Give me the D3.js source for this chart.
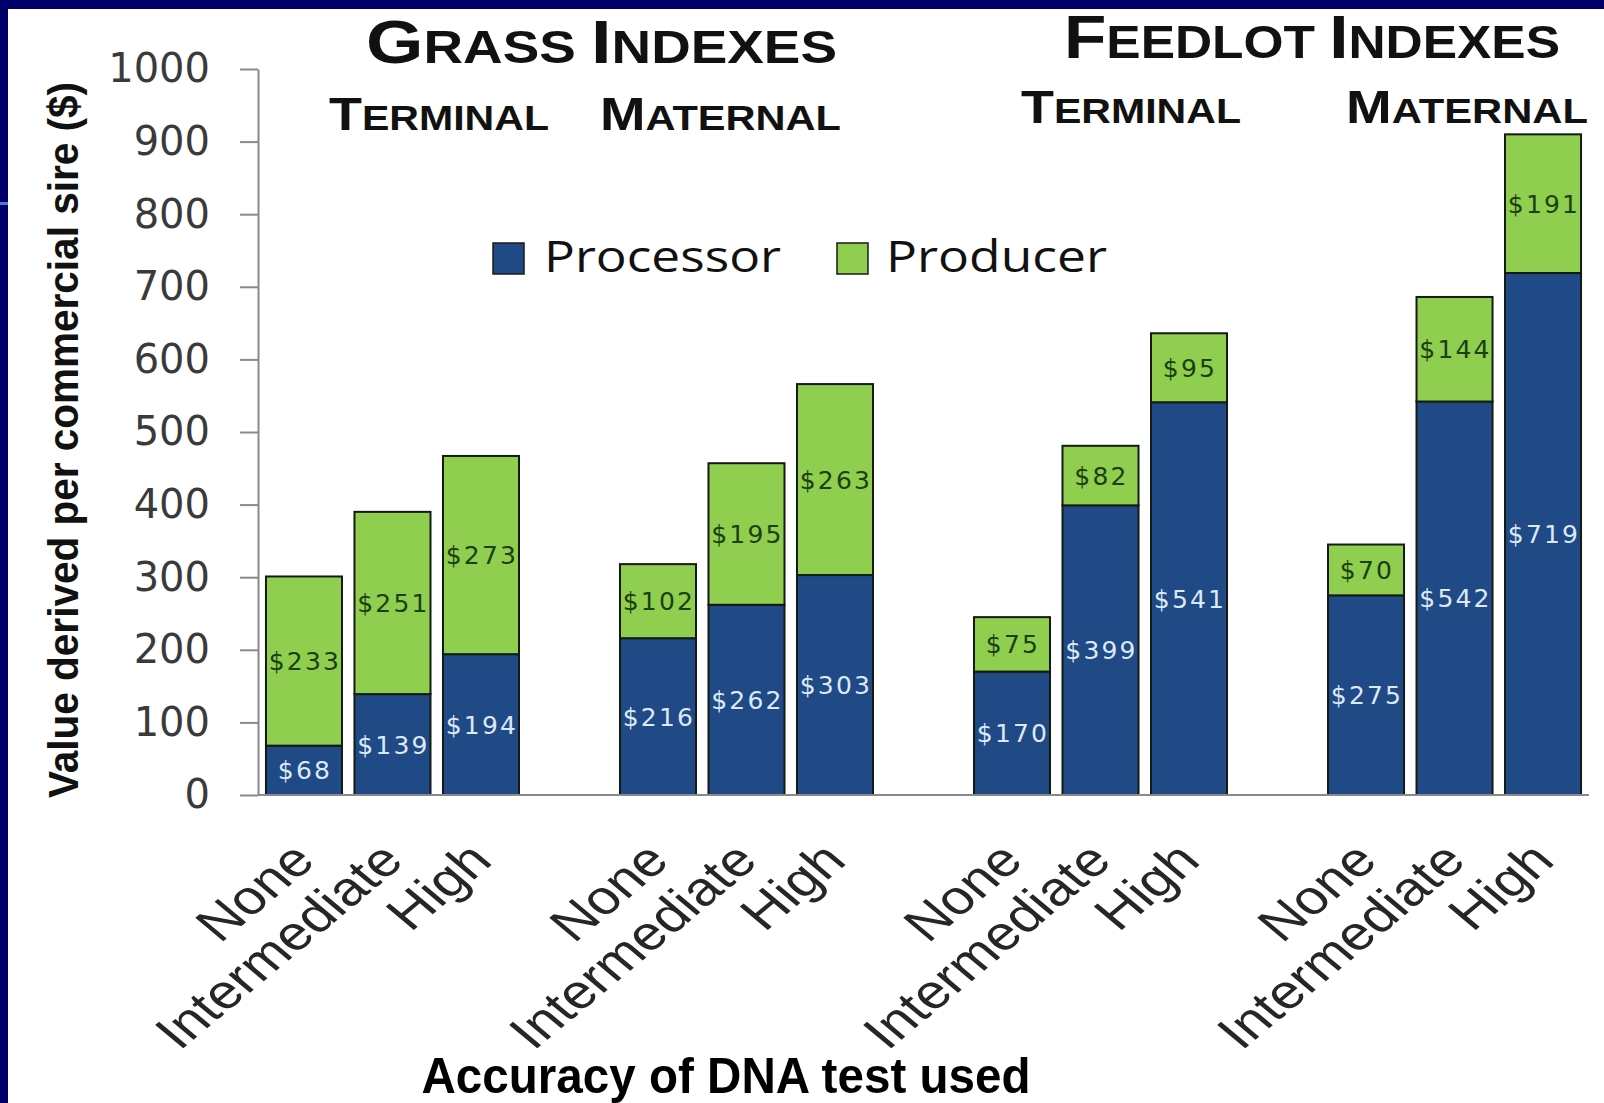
<!DOCTYPE html>
<html>
<head>
<meta charset="utf-8">
<script src="https://cdn.jsdelivr.net/npm/d3@7"></script>
<style>
  html, body { margin: 0; padding: 0; background: #ffffff; overflow: hidden; }
  svg { display: block; }
</style>
</head>
<body>
<svg id="chart" width="1604" height="1103"></svg>
<script>
// Index groups (left to right) and DNA test accuracy levels within each group
const groups = ["Grass Terminal", "Grass Maternal", "Feedlot Terminal", "Feedlot Maternal"];
const levels = ["None", "Intermediate", "High"];

// Value per commercial sire ($), one entry per bar, in group order
const processorValues = [68, 139, 194, 216, 262, 303, 170, 399, 541, 275, 542, 719];
const producerValues  = [233, 251, 273, 102, 195, 263, 75, 82, 95, 70, 144, 191];

const seriesNames = ["Processor", "Producer"];
const yTicks = [0, 100, 200, 300, 400, 500, 600, 700, 800, 900, 1000];

const sectionTitles = [["G", "RASS "], ["I", "NDEXES"]];
const sectionTitles2 = [["F", "EEDLOT "], ["I", "NDEXES"]];
const terminalTitle = [["T", "ERMINAL"]];
const maternalTitle = [["M", "ATERNAL"]];

const yTitle = "Value derived per commercial sire ($)";
const xTitle = "Accuracy of DNA test used";

const W = 1604, H = 1103;
const colors = { Processor: "#1f4a86", Producer: "#8fce4e" };

const svg = d3.select("#chart");

// slide frame
svg.append("rect").attr("width", W).attr("height", H).attr("fill", "#000068");
svg.append("rect").attr("x", 8).attr("y", 9).attr("width", W - 8).attr("height", H - 9).attr("fill", "#ffffff");
svg.append("rect").attr("x", 0).attr("y", 202).attr("width", 8).attr("height", 3).attr("fill", "#4f78e6");

// one slot per bar, plus an empty slot between index groups
const slots = [];
const bars = [];
groups.forEach((g, gi) => {
  levels.forEach((lv, li) => {
    const key = g + "|" + lv;
    slots.push(key);
    const i = gi * levels.length + li;
    bars.push({ key, group: g, level: lv, processor: processorValues[i], producer: producerValues[i] });
  });
  if (gi < groups.length - 1) slots.push("gap" + gi);
});

const x = d3.scaleBand().domain(slots).range([258, 1589]).paddingInner(0.141).paddingOuter(0.09);
const y = d3.scaleLinear().domain([0, 1000]).range([795, 69]);

// stacked segments
const stack = d3.stack().keys(["processor", "producer"]);
const stacked = stack(bars);

const segG = svg.append("g");
stacked.forEach((layer, si) => {
  const name = seriesNames[si];
  segG.selectAll(null)
    .data(layer)
    .join("rect")
    .attr("x", d => x(d.data.key))
    .attr("width", x.bandwidth())
    .attr("y", d => y(d[1]))
    .attr("height", d => y(d[0]) - y(d[1]))
    .attr("fill", colors[name])
    .attr("stroke", "#141a14")
    .attr("stroke-width", 2);
});

// value labels centred in each segment
stacked.forEach((layer, si) => {
  const name = seriesNames[si];
  segG.selectAll(null)
    .data(layer)
    .join("text")
    .attr("x", d => x(d.data.key) + x.bandwidth() / 2 + 1)
    .attr("y", d => (y(d[0]) + y(d[1])) / 2)
    .attr("dy", "0.36em")
    .attr("text-anchor", "middle")
    .attr("font-family", "'DejaVu Sans', Verdana, sans-serif")
    .attr("font-size", 25)
    .attr("letter-spacing", 2.2)
    .attr("fill", name === "Processor" ? "#dde8f6" : "#1c3f14")
    .text(d => "$" + (d[1] - d[0]));
});

// y axis
const yAxis = d3.axisLeft(y).tickValues(yTicks).tickFormat(d3.format("d"))
  .tickSize(18).tickPadding(30).tickSizeOuter(0);
const yg = svg.append("g").attr("transform", "translate(258,0)").call(yAxis);
yg.select(".domain").attr("stroke", "#8a8a8a").attr("stroke-width", 2);
yg.selectAll(".tick line").attr("stroke", "#8a8a8a").attr("stroke-width", 2);
yg.selectAll(".tick text")
  .attr("font-family", "'DejaVu Sans', Verdana, sans-serif")
  .attr("font-size", 40)
  .attr("fill", "#3a3a3a");

// x axis baseline
svg.append("line")
  .attr("x1", 258).attr("x2", 1589)
  .attr("y1", y(0)).attr("y2", y(0))
  .attr("stroke", "#8a8a8a").attr("stroke-width", 2);

// slanted category labels
svg.append("g").selectAll("text")
  .data(bars)
  .join("text")
  .attr("transform", d => `translate(${x(d.key) + x.bandwidth() / 2 - 1},${851}) scale(1.2,1) rotate(-45)`)
  .attr("text-anchor", "end")
  .attr("dy", "0.35em")
  .attr("font-family", "'Liberation Sans', Arial, sans-serif")
  .attr("font-size", 48)
  .attr("fill", "#262626")
  .text(d => d.level);

// axis titles
svg.append("text")
  .attr("transform", "translate(78,440) rotate(-90)")
  .attr("text-anchor", "middle")
  .attr("font-family", "'Liberation Sans', Arial, sans-serif")
  .attr("font-weight", "bold")
  .attr("font-size", 42)
  .attr("textLength", 716)
  .attr("lengthAdjust", "spacingAndGlyphs")
  .attr("fill", "#111")
  .text(yTitle);

svg.append("text")
  .attr("x", 726).attr("y", 1093)
  .attr("text-anchor", "middle")
  .attr("font-family", "'Liberation Sans', Arial, sans-serif")
  .attr("font-weight", "bold")
  .attr("font-size", 50)
  .attr("textLength", 609)
  .attr("lengthAdjust", "spacingAndGlyphs")
  .attr("fill", "#000")
  .text(xTitle);

// small-caps headings
function smallCaps(parts, xLeft, yBase, big, small, len) {
  const t = svg.append("text")
    .attr("x", xLeft).attr("y", yBase)
    .attr("font-family", "'Liberation Sans', Arial, sans-serif")
    .attr("font-weight", "bold")
    .attr("fill", "#111")
    .attr("textLength", len)
    .attr("lengthAdjust", "spacingAndGlyphs");
  parts.forEach(([first, rest]) => {
    t.append("tspan").attr("font-size", big).text(first);
    t.append("tspan").attr("font-size", small).text(rest);
  });
}
smallCaps(sectionTitles, 366, 63, 62, 46, 471);
smallCaps(sectionTitles2, 1064, 58, 62, 46, 496);
smallCaps(terminalTitle, 329, 130, 46, 35, 220);
smallCaps(maternalTitle, 600, 130, 46, 35, 241);
smallCaps(terminalTitle, 1021, 123, 46, 35, 220);
smallCaps(maternalTitle, 1346, 123, 46, 35, 242);

// legend
const legend = svg.append("g");
const legendItems = [
  { name: "Processor", sx: 493, tx: 544, len: 237 },
  { name: "Producer", sx: 837, tx: 886, len: 221 }
];
legendItems.forEach(it => {
  legend.append("rect")
    .attr("x", it.sx).attr("y", 243).attr("width", 31).attr("height", 31)
    .attr("fill", colors[it.name]).attr("stroke", "#1a1a1a").attr("stroke-width", 1.5);
  legend.append("text")
    .attr("x", it.tx).attr("y", 272)
    .attr("font-family", "'Open Sans', 'Noto Sans', sans-serif")
    .attr("font-size", 44)
    .attr("textLength", it.len)
    .attr("lengthAdjust", "spacingAndGlyphs")
    .attr("fill", "#111")
    .text(it.name);
});
</script>
</body>
</html>
